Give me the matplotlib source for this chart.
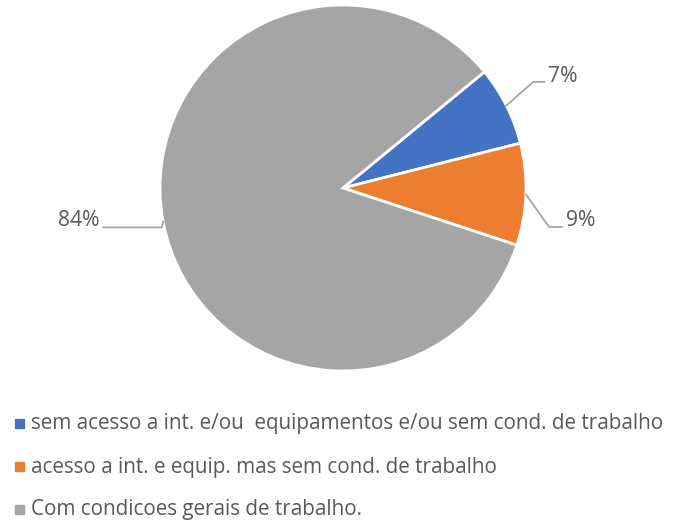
import numpy as np
import matplotlib.pyplot as plt

categories = ['sem acesso a int. e/ou  equipamentos e/ou sem cond. de trabalho',
              'acesso a int. e equip. mas sem cond. de trabalho',
              'Com condicoes gerais de trabalho.']
values = [7, 9, 84]
pct_labels = ['7%', '9%', '84%']
colors = ['#4472C4', '#ED7D31', '#A5A5A5']

plt.rcParams['font.family'] = ['Open Sans', 'DejaVu Sans']
txt_color = '#595959'

fig = plt.figure(figsize=(6.76, 5.27), dpi=100)
W, H = 676, 527
cx, cy, r = 343, 188, 183
ax = fig.add_axes([(cx - r) / W, (H - cy - r) / H, 2 * r / W, 2 * r / H])

wedges, _ = ax.pie(values, colors=colors, startangle=39.4, counterclock=False,
                   wedgeprops=dict(edgecolor='white', linewidth=2))
ax.set_xlim(-1, 1)
ax.set_ylim(-1, 1)
ax.set_aspect('equal')
ax.axis('off')

# leader lines: elbow, end, text position (radius units)
leaders = [
    ((1.04, 0.58), (1.10, 0.58), (1.12, 0.61), 'left'),
    ((1.126, -0.213), (1.197, -0.213), (1.22, -0.175), 'left'),
    ((-0.99, -0.215), (-1.31, -0.215), (-1.328, -0.175), 'right'),
]
for w, lab, (elb, end, tpos, ha) in zip(wedges, pct_labels, leaders):
    ang = np.deg2rad((w.theta1 + w.theta2) / 2)
    x0, y0 = np.cos(ang), np.sin(ang)
    ax.plot([x0, elb[0], end[0]], [y0, elb[1], end[1]], color='#A6A6A6',
            lw=1.3, clip_on=False)
    ax.text(tpos[0], tpos[1], lab, ha=ha, va='center', fontsize=15.2,
            color=txt_color, clip_on=False)

# legend
leg_y = [424, 467, 510]
for c, lab, y in zip(colors, categories, leg_y):
    fig.patches.append(plt.Rectangle((15 / W, 1 - (y + 4) / H), 9 / W, 9 / H,
                                     transform=fig.transFigure, color=c))
    fig.text(31 / W, 1 - y / H, lab, ha='left', va='center', fontsize=14.9,
             color=txt_color)

fig.savefig('out.png', dpi=100)
